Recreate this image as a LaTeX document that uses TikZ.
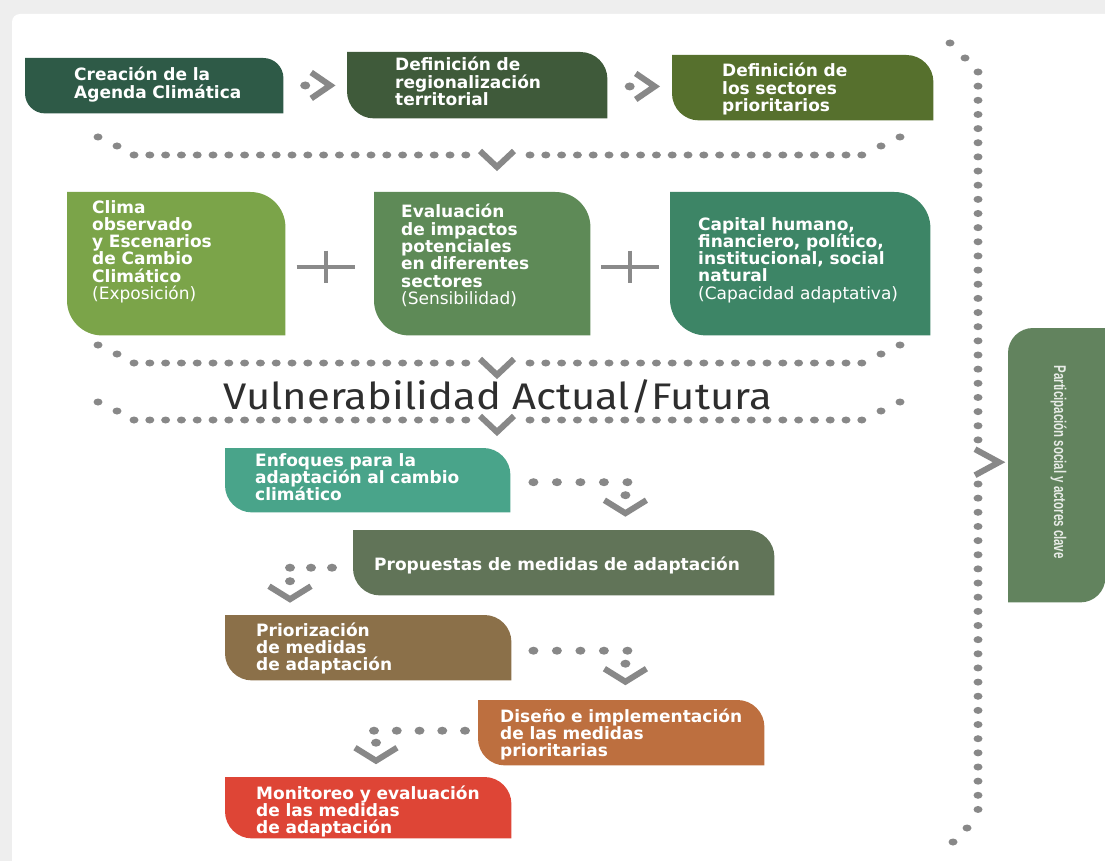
\documentclass[tikz,border=0pt]{standalone}
\usepackage{fontspec}
\usepackage{graphicx}
\setmainfont{DejaVu Sans}
\newfontfamily\titlefont{Fira Sans}
\newfontfamily\sidefont{Liberation Sans}
\usetikzlibrary{calc,backgrounds}

\definecolor{cAgenda}{HTML}{2E5A47}
\definecolor{cRegion}{HTML}{3F5A3A}
\definecolor{cSector}{HTML}{56702D}
\definecolor{cClima}{HTML}{7BA449}
\definecolor{cImpacto}{HTML}{5E8A57}
\definecolor{cCapital}{HTML}{3D8566}
\definecolor{cEnfoque}{HTML}{49A48A}
\definecolor{cPropuesta}{HTML}{617458}
\definecolor{cPrior}{HTML}{8B7049}
\definecolor{cDiseno}{HTML}{BD6F3F}
\definecolor{cMonitor}{HTML}{DE4536}
\definecolor{cActores}{HTML}{62835E}
\definecolor{dotgray}{HTML}{888888}
\definecolor{plusgray}{HTML}{8A8A8A}
\definecolor{titlegray}{HTML}{2E2E2E}
\definecolor{frame}{HTML}{EEEEEE}

\newcommand{\boxfont}{\fontsize{17}{17.3}\selectfont\bfseries}
% box with round top right and bottom left corner
\newcommand{\leaf}[3]{%
  \begin{pgfonlayer}{background}
  \fill[#2] (#1.north west) -- ($(#1.north east)+(-#3,0)$) arc[start angle=270,end angle=360,radius=#3]
    -- (#1.south east) -- ($(#1.south west)+(#3,0)$) arc[start angle=90,end angle=180,radius=#3] -- cycle;
  \end{pgfonlayer}}
% dot over a chevron pointing down
\newcommand{\dnchev}[1]{%
  \fill[dotgray] (#1) ellipse [x radius=5,y radius=4];
  \draw[chev] ($(#1)+(-21,5)$) -- ($(#1)+(0,18)$) -- ($(#1)+(21,5)$);}

\begin{document}
\begin{tikzpicture}[x=1pt,y=-1pt,
    box/.style={anchor=north west,inner sep=0pt},
    txt/.style={anchor=base west,inner sep=0pt,text width=430pt,align=left,text=white,font=\boxfont},
    chev/.style={draw=dotgray,line width=6pt},
    plus/.style={draw=plusgray,line width=4pt}]
  \useasboundingbox (0,0) rectangle (1105,861);
  \begin{pgfonlayer}{background}
    \fill[frame] (0,0) rectangle (1105,861);
    \fill[white,rounded corners=8pt] (12,14) rectangle (1125,881);
  \end{pgfonlayer}

  % first row
  \node[box,minimum width=258pt,minimum height=55pt] (agenda) at (25,58) {};
  \node[box,minimum width=260pt,minimum height=66pt] (region) at (347,52) {};
  \node[box,minimum width=261pt,minimum height=65pt] (sector) at (672,55) {};
  \leaf{agenda}{cAgenda}{20}
  \leaf{region}{cRegion}{27}
  \leaf{sector}{cSector}{27}
  \node[txt] (agenda-t) at ($(agenda.north west)+(49,23)$) {Creación de la\\Agenda Climática};
  \node[txt] (region-t) at ($(region.north west)+(48,19)$) {Definición de\\regionalización\\territorial};
  \node[txt] (sector-t) at ($(sector.north west)+(50,22)$) {Definición de\\los sectores\\prioritarios};
  \coordinate (m1) at ($(agenda.east)!0.5!(region.west)$);
  \coordinate (m2) at ($(region.east)!0.5!(sector.west)$);
  \foreach \m in {m1,m2} {
    \fill[dotgray] ($(\m)+(-10,0)$) ellipse [x radius=5,y radius=4];
    \draw[chev] ($(\m)+(-4,-13)$) -- ($(\m)+(15,0)$) -- ($(\m)+(-4,13)$);
  }

  % second row
  \node[box,minimum width=218pt,minimum height=143pt] (clima) at (67,192) {};
  \node[box,minimum width=216pt,minimum height=143pt] (impacto) at (374,192) {};
  \node[box,minimum width=260pt,minimum height=143pt] (capital) at (670,192) {};
  \leaf{clima}{cClima}{35}
  \leaf{impacto}{cImpacto}{35}
  \leaf{capital}{cCapital}{36}
  \node[txt] (clima-t) at ($(clima.north west)+(25,21)$) {Clima\\observado\\y Escenarios\\de Cambio\\Climático\\{\mdseries(Exposición)}};
  \node[txt] (impacto-t) at ($(impacto.north west)+(27,26)$) {Evaluación\\de impactos\\potenciales\\en diferentes\\sectores\\{\mdseries(Sensibilidad)}};
  \node[txt] (capital-t) at ($(capital.north west)+(28,38)$) {Capital humano,\\financiero, político,\\institucional, social\\natural\\{\mdseries(Capacidad adaptativa)}};
  \coordinate (p1) at ($(clima.east)!0.5!(impacto.west)+(-4,3)$);
  \coordinate (p2) at ($(impacto.east)!0.5!(capital.west)+(0,3)$);
  \foreach \p in {p1,p2}
    \draw[plus] ($(\p)+(-29,0)$) -- ($(\p)+(29,0)$) ($(\p)+(0,-16)$) -- ($(\p)+(0,16)$);

  % dotted brackets
  \foreach \y in {155,363,420} {
    \foreach \x in {134,149.8,...,467} \fill[dotgray] (\x,\y) ellipse [x radius=4.5,y radius=3.5];
    \foreach \x in {530,545.8,...,863} \fill[dotgray] (\x,\y) ellipse [x radius=4.5,y radius=3.5];
    \foreach \x/\d in {117/9,98/18,881/9,900/18} \fill[dotgray] (\x,\y-\d) ellipse [x radius=4.5,y radius=3.5];
    \draw[chev] (480,\y-4) -- (497,\y+12) -- (514,\y-4);
  }
  \node[anchor=base,inner sep=0pt,text=titlegray,font=\titlefont\fontsize{37}{42}\selectfont] (vuln) at (498,409)
    {\resizebox{548pt}{\height}{Vulnerabilidad Actual/Futura}};

  % steps
  \node[box,minimum width=285pt,minimum height=64pt] (enfoque) at (225,448) {};
  \node[box,minimum width=421pt,minimum height=65pt] (propuesta) at (353,530) {};
  \node[box,minimum width=286pt,minimum height=65pt] (prior) at (225,615) {};
  \node[box,minimum width=286pt,minimum height=65pt] (diseno) at (478,700) {};
  \node[box,minimum width=286pt,minimum height=61pt] (monitor) at (225,777) {};
  \leaf{enfoque}{cEnfoque}{27}
  \leaf{propuesta}{cPropuesta}{27}
  \leaf{prior}{cPrior}{27}
  \leaf{diseno}{cDiseno}{27}
  \leaf{monitor}{cMonitor}{27}
  \node[txt] (enfoque-t) at ($(enfoque.north west)+(30,18)$) {Enfoques para la\\adaptación al cambio\\climático};
  \node[txt] (propuesta-t) at ($(propuesta.north west)+(21,40)$) {Propuestas de medidas de adaptación};
  \node[txt] (prior-t) at ($(prior.north west)+(31,21)$) {Priorización\\de medidas\\de adaptación};
  \node[txt] (diseno-t) at ($(diseno.north west)+(22,22)$) {Diseño e implementación\\de las medidas\\prioritarias};
  \node[txt] (monitor-t) at ($(monitor.north west)+(31,22)$) {Monitoreo y evaluación\\de las medidas\\de adaptación};

  \foreach \i in {0,...,4} \fill[dotgray] ($(enfoque.east)+(23+23.5*\i,2)$) ellipse [x radius=5,y radius=4];
  \coordinate (e1) at ($(enfoque.east)+(115,15)$);
  \dnchev{e1}
  \foreach \i in {0,...,2} \fill[dotgray] ($(propuesta.west)+(-21-21*\i,5)$) ellipse [x radius=5,y radius=4];
  \coordinate (e2) at ($(propuesta.west)+(-63,18.5)$);
  \dnchev{e2}
  \foreach \i in {0,...,4} \fill[dotgray] ($(prior.east)+(22+23.5*\i,3)$) ellipse [x radius=5,y radius=4];
  \coordinate (e3) at ($(prior.east)+(114,16)$);
  \dnchev{e3}
  \foreach \i in {0,...,4} \fill[dotgray] ($(diseno.west)+(-13-22.75*\i,-2)$) ellipse [x radius=5,y radius=4];
  \coordinate (e4) at ($(diseno.west)+(-102,10)$);
  \dnchev{e4}

  % side box
  \node[box,minimum width=97pt,minimum height=274pt] (actores) at (1008,328) {};
  \begin{pgfonlayer}{background}
    \fill[cActores] (actores.south west) -- ($(actores.north west)+(0,25)$) arc[start angle=180,end angle=270,radius=25]
      -- (actores.north east) -- ($(actores.south east)+(0,-25)$) arc[start angle=0,end angle=90,radius=25] -- cycle;
  \end{pgfonlayer}
  \node[rotate=-90,inner sep=0pt,text=white!85!cActores,font=\sidefont\bfseries\fontsize{17}{19}\selectfont] (actores-t) at ($(actores.center)+(2,-3)$)
    {\resizebox{193pt}{\height}{Participación social y actores clave}};

  % dotted line to the side box
  \foreach \x/\y in {950/43,965/58,967/828,953/842} \fill[dotgray] (\x,\y) ellipse [x radius=4.5,y radius=3.5];
  \foreach \y in {72,86.15,...,440} \fill[dotgray] (978,\y) ellipse [x radius=4.5,y radius=3.5];
  \foreach \y in {484,498.15,...,814} \fill[dotgray] (978,\y) ellipse [x radius=4.5,y radius=3.5];
  \coordinate (s1) at ($(actores.west)+(-9,-3)$);
  \draw[chev] ($(s1)+(-24,-13)$) -- (s1) -- ($(s1)+(-24,13)$);
\end{tikzpicture}
\end{document}
